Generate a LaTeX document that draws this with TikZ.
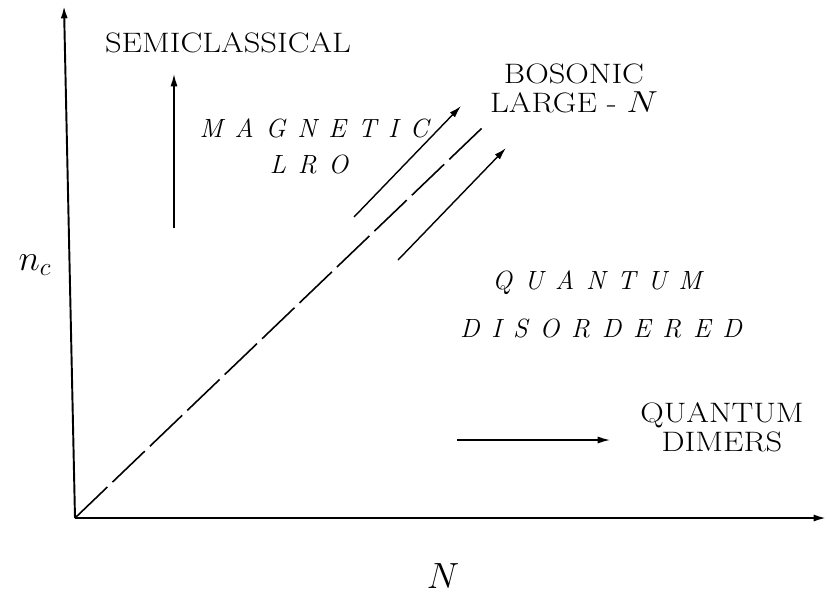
\documentclass[tikz,border=0pt]{standalone}
\usepackage{amsmath}
\usepackage{graphicx}
\usepackage{tikz}
\usetikzlibrary{arrows.meta, positioning, calc}
\newcommand{\wide}[1]{\scalebox{1.16}[1]{#1}}
\newcommand{\gp}{\hspace{0.45em}}

\begin{document}
\begin{tikzpicture}[
    x=0.02cm, y=-0.02cm,
    axis/.style={line width=1.1pt, -{Latex[length=7pt, width=4pt]}},
    arr/.style={line width=0.8pt, -{Latex[length=7pt, width=4pt]}},
    lbl/.style={font=\fontsize{16}{16.5}\selectfont, align=center, inner sep=0pt},
    spaced/.style={font=\itshape\fontsize{15}{17}\selectfont, inner sep=0pt},
  ]
  \useasboundingbox (0,0) rectangle (827,603);

  % ── AXES ──
  \coordinate (o) at (75,518);
  \coordinate (ytop) at (64,6);
  \coordinate (xend) at (826,518);
  \draw[axis] (o) -- (ytop);
  \draw[axis] (o) -- (xend);
  \node[font=\fontsize{22}{24}\selectfont] (xlab) at (443,576) {$N$};
  \node[font=\fontsize{22}{24}\selectfont] (ylab) at (35,265) {$n_c$};

  % ── BOUNDARY ──
  \coordinate (bnd) at (482,128);
  \draw[line width=0.9pt, dash pattern=on 25.5pt off 4pt] (o) -- (bnd);

  % ── SEMICLASSICAL ──
  \node[lbl] (semi) at (228,43) {\wide{SEMICLASSICAL}};
  \coordinate (s0) at (174,228);
  \coordinate (s1) at (174,74);
  \draw[arr] (s0) -- (s1);

  % ── MAGNETIC LRO ──
  \node[spaced] (mag) at (314,128) {M\gp A\gp G\gp N\gp E\gp T\gp I\gp C};
  \node[spaced] (lro) at (309,164) {L\gp R\gp O};

  % ── BOSONIC LARGE-N ──
  \node[lbl] (bos) at (574,88) {\wide{BOSONIC}\\\wide{LARGE - $N$}};
  \coordinate (b0) at (354,217);
  \coordinate (b1) at (461,106);
  \draw[arr] (b0) -- (b1);
  \coordinate (c0) at (398,260);
  \coordinate (c1) at (506,148);
  \draw[arr] (c0) -- (c1);

  % ── QUANTUM DISORDERED ──
  \node[spaced] (qua) at (597,283) {Q\gp U\gp A\gp N\gp T\gp U\gp M};
  \node[spaced] (dis) at (601,328) {D\gp I\gp S\gp O\gp R\gp D\gp E\gp R\gp E\gp D};

  % ── QUANTUM DIMERS ──
  \node[lbl] (dim) at (722,427) {\wide{QUANTUM}\\\wide{DIMERS}};
  \coordinate (d0) at (457,440);
  \coordinate (d1) at (610,440);
  \draw[arr] (d0) -- (d1);
\end{tikzpicture}
\end{document}
